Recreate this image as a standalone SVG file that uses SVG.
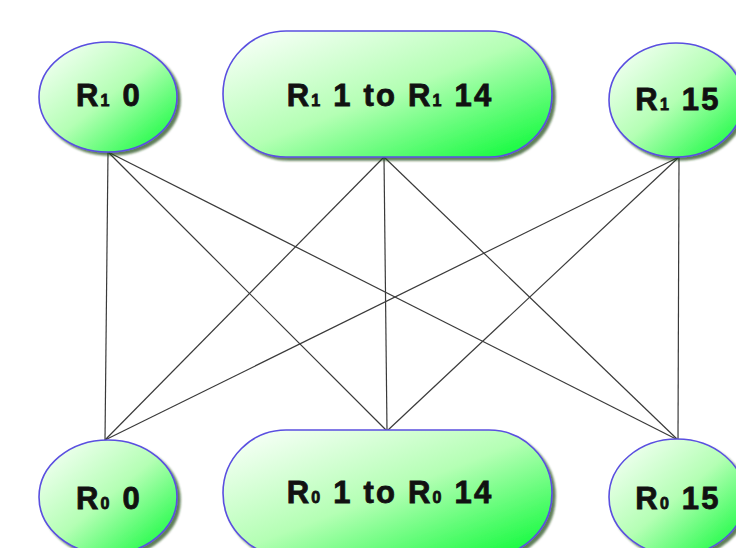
<svg xmlns="http://www.w3.org/2000/svg" width="736" height="548" viewBox="0 0 736 548">
<defs>
<linearGradient id="g" x1="0" y1="0" x2="1" y2="1">
<stop offset="0" stop-color="#ffffff"/>
<stop offset="0.5" stop-color="#b4ffb4"/>
<stop offset="1" stop-color="#00fa30"/>
</linearGradient>
<filter id="sh" x="-10%" y="-10%" width="125%" height="125%">
<feDropShadow dx="3" dy="3" stdDeviation="1.2" flood-color="#1a4a10" flood-opacity="0.7"/>
</filter>
</defs>
<style>
.n{fill:url(#g);stroke:#5a4fe0;stroke-width:1.6;filter:url(#sh)}
.t{font-family:"Liberation Sans",Arial,sans-serif;font-weight:bold;font-size:31px;fill:#111;stroke:#111;stroke-width:0.8;text-anchor:middle;letter-spacing:2.2px}
.s{font-size:16px}
.e line{stroke:#3a3a3a;stroke-width:1.2}
</style>
<rect width="736" height="548" fill="#fff"/>
<g id="edges" class="e">
<line x1="108" y1="152" x2="105" y2="440"/>
<line x1="108" y1="152" x2="387" y2="431"/>
<line x1="108" y1="152" x2="678" y2="440"/>
<line x1="384" y1="157" x2="105" y2="440"/>
<line x1="384" y1="157" x2="387" y2="431"/>
<line x1="384" y1="157" x2="678" y2="440"/>
<line x1="679" y1="157" x2="105" y2="440"/>
<line x1="679" y1="157" x2="387" y2="431"/>
<line x1="679" y1="157" x2="678" y2="440"/>
</g>
<g id="r1_0">
<ellipse class="n" cx="108" cy="97" rx="69" ry="55"/>
<text class="t" x="109" y="106">R<tspan class="s">1</tspan> 0</text>
</g>
<g id="r1_1_14">
<rect class="n" x="223" y="31" width="329" height="126" rx="63" ry="63"/>
<text class="t" x="390" y="106">R<tspan class="s">1</tspan> 1 to R<tspan class="s">1</tspan> 14</text>
</g>
<g id="r1_15">
<ellipse class="n" cx="676" cy="100" rx="67" ry="57"/>
<text class="t" x="678" y="110">R<tspan class="s">1</tspan> 15</text>
</g>
<g id="r0_0">
<ellipse class="n" cx="108" cy="497" rx="69" ry="57"/>
<text class="t" x="109" y="509">R<tspan class="s">0</tspan> 0</text>
</g>
<g id="r0_1_14">
<rect class="n" x="223" y="430" width="329" height="126" rx="63" ry="63"/>
<text class="t" x="390" y="503">R<tspan class="s">0</tspan> 1 to R<tspan class="s">0</tspan> 14</text>
</g>
<g id="r0_15">
<ellipse class="n" cx="677" cy="497" rx="68" ry="58"/>
<text class="t" x="678" y="509">R<tspan class="s">0</tspan> 15</text>
</g>
</svg>
